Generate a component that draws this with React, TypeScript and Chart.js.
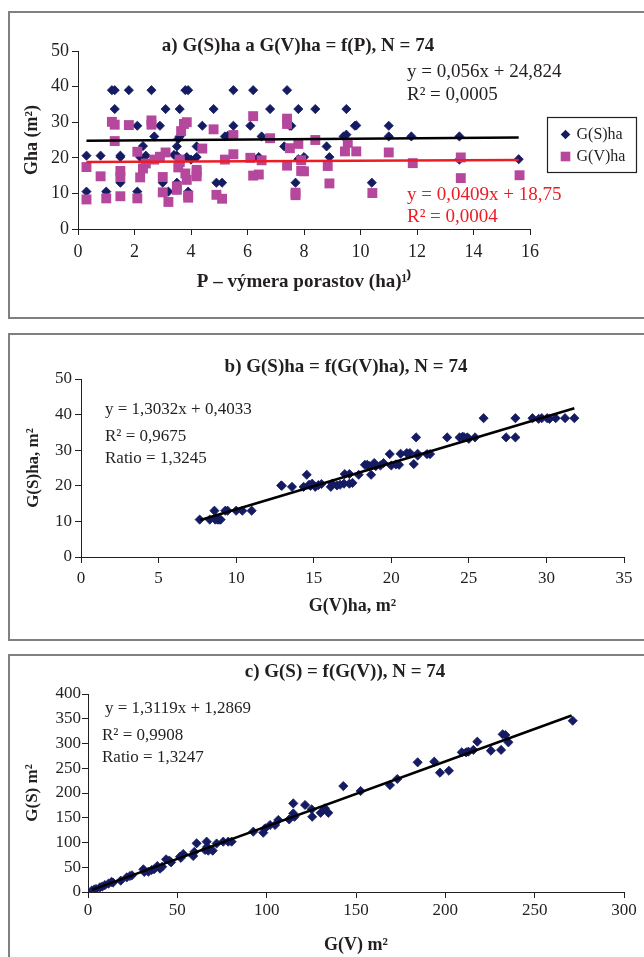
import React, { useEffect, useRef } from 'react';
import { Chart, registerables } from 'chart.js';
Chart.register(...registerables);

const FONT = '"Liberation Serif", "Times New Roman", Times, serif';
const INK = '#231f20';
const NAVY = '#141b62';
const MAGENTA = '#b5489c';
const RED = '#ed1c24';

// ---------------- Panel a: G(S)ha a G(V)ha = f(P) ----------------
const aTitle = 'a) G(S)ha a G(V)ha = f(P), N = 74';
const aXTitle = 'P – výmera porastov (ha)¹⁾';
const aYTitle = 'Gha (m²)';
const aSeries = ['G(S)ha', 'G(V)ha'];
const aXTicks = { min: 0, max: 16, step: 2 };
const aYTicks = { min: 0, max: 50, step: 10 };
const aGS: number[][] = [
  [1.2, 39], [1.3, 39], [1.8, 39], [2.6, 39], [3.8, 39], [3.9, 39], [5.5, 39], [6.2, 39], [7.4, 39],
  [1.3, 33.7], [3.1, 33.7], [3.6, 33.7], [4.8, 33.7], [6.8, 33.7], [7.8, 33.7], [8.4, 33.7], [9.5, 33.7],
  [2.1, 29], [2.9, 29], [4.4, 29], [5.5, 29], [6.1, 29], [7.5, 29], [9.8, 29], [9.85, 29.1], [11.0, 29],
  [2.7, 26], [3.6, 26], [5.2, 26], [6.5, 26], [9.4, 26], [11.0, 26], [11.8, 26], [13.5, 26],
  [2.3, 23.3], [3.5, 23.2], [4.2, 23.2], [7.3, 23.2], [8.8, 23.2],
  [0.3, 20.6], [0.8, 20.6], [1.5, 20.6], [1.5, 20.2], [2.2, 20.2], [2.4, 20.6], [3.5, 20.6], [3.85, 20.2],
  [4.2, 20.2], [6.2, 20.0], [6.4, 20.2], [7.8, 19.6], [8.0, 20.2], [8.9, 20.2], [13.5, 19.5], [15.6, 19.6],
  [1.5, 13], [3.0, 13], [3.5, 13], [4.9, 13], [5.1, 13], [7.7, 13], [10.4, 13],
  [0.3, 10.5], [1.0, 10.5], [2.1, 10.5], [3.2, 10.5], [3.9, 10.5],
  [3.55, 25.3], [2.9, 20.3], [5.3, 26.2], [7.55, 29], [9.5, 26.5], [3.4, 20.8], [4.0, 19.5],
];
const aGV: number[][] = [
  [1.2, 30.1], [1.3, 29.3], [1.8, 29.2], [2.6, 30.5], [2.6, 29.3], [3.85, 30.0], [3.75, 29.5], [7.4, 31.0],
  [7.4, 29.5], [6.2, 31.7], [4.8, 28.0], [3.65, 27.5], [5.5, 26.4], [6.8, 25.5], [1.3, 24.7], [7.8, 23.9],
  [8.4, 25.0], [9.55, 24.2], [4.4, 22.6], [7.5, 22.7], [2.1, 21.7], [3.1, 21.5], [9.45, 21.8], [9.85, 21.8],
  [11.0, 21.5], [5.5, 21.0], [2.9, 20.3], [6.1, 20.0], [13.55, 20.1], [2.7, 19.5], [5.2, 19.5], [6.5, 19.3],
  [7.9, 19.3], [2.4, 18.4], [3.6, 18.8], [3.55, 17.3], [0.3, 17.4], [8.84, 17.7], [7.4, 17.8], [4.2, 16.6],
  [2.3, 17.0], [11.85, 18.5], [1.5, 16.3], [3.8, 15.6], [7.9, 16.3], [8.0, 16.2], [0.8, 14.8], [1.5, 14.6],
  [3.0, 14.6], [3.85, 13.8], [4.2, 14.8], [6.2, 15.0], [6.4, 15.3], [2.2, 14.5], [13.55, 14.3], [15.63, 15.1],
  [8.9, 12.8], [3.5, 11.0], [3.0, 10.3], [10.42, 10.1], [1.5, 9.2], [4.9, 9.6], [7.7, 9.5], [7.7, 10.2],
  [0.3, 8.3], [1.0, 8.6], [2.1, 8.6], [5.1, 8.5], [3.9, 8.8], [3.2, 7.6], [3.9, 9.4], [3.5, 12.0],
  [4.2, 16.0], [3.6, 19.5],
];
const aTrendS: number[][] = [[0.3, 24.8], [15.6, 25.7]];
const aTrendV: number[][] = [[0.3, 18.8], [15.6, 19.4]];
const aEqS = ['y = 0,056x + 24,824', 'R² = 0,0005'];
const aEqV = ['y = 0,0409x + 18,75', 'R² = 0,0004'];

// ---------------- Panel b: G(S)ha = f(G(V)ha) ----------------
const bTitle = 'b) G(S)ha = f(G(V)ha), N = 74';
const bXTitle = 'G(V)ha, m²';
const bYTitle = 'G(S)ha, m²';
const bXTicks = { min: 0, max: 35, step: 5 };
const bYTicks = { min: 0, max: 50, step: 10 };
const bPoints: number[][] = [
  [7.65, 10.5], [8.3, 10.5], [8.6, 13], [8.65, 10.5], [8.8, 10.5], [8.9, 10.5], [9.3, 13], [9.45, 13],
  [10.0, 13], [10.4, 13], [11.0, 13], [12.9, 20.1], [13.6, 19.7], [14.35, 19.7], [14.55, 23.1], [14.7, 20.3],
  [14.9, 20.6], [15.1, 19.7], [15.3, 20.2], [16.1, 19.7], [16.2, 20.6], [16.5, 20.1], [16.95, 20.6], [17.0, 23.3],
  [17.3, 20.6], [17.3, 23.3], [17.9, 23.1], [18.3, 25.9], [18.45, 25.9], [18.7, 23.1], [18.9, 26.4], [19.3, 25.7],
  [19.5, 26.4], [19.9, 28.9], [20.0, 25.7], [20.5, 25.9], [20.6, 29.0], [21.0, 29.2], [21.2, 29.2], [21.45, 26.1],
  [21.6, 33.6], [21.7, 29.0], [22.3, 28.9], [22.5, 28.9], [23.6, 33.6], [24.4, 33.6], [24.7, 33.6], [24.9, 33.6],
  [25.4, 33.6], [25.95, 39.0], [27.4, 33.6], [28.0, 33.6], [28.0, 39.0], [29.1, 39.0], [29.7, 39.0], [30.05, 39.0],
  [30.6, 39.0], [31.2, 39.0], [31.8, 39.0],
  [8.7, 11.0], [9.0, 10.5], [15.5, 20.5], [16.7, 20.3], [19.0, 25.5], [20.3, 26.0], [21.7, 28.5], [14.8, 20.0],
  [17.5, 20.8], [18.6, 25.5], [24.6, 33.8], [25.0, 33.2], [29.5, 38.8], [30.2, 38.8], [12.95, 20.0],
];
const bTrend: number[][] = [[7.7, 10.4], [31.8, 41.8]];
const bEq = ['y = 1,3032x + 0,4033', 'R² = 0,9675', 'Ratio = 1,3245'];

// ---------------- Panel c: G(S) = f(G(V)) ----------------
const cTitle = 'c) G(S) = f(G(V)), N = 74';
const cXTitle = 'G(V) m²';
const cYTitle = 'G(S) m²';
const cXTicks = { min: 0, max: 300, step: 50 };
const cYTicks = { min: 0, max: 400, step: 50 };
const cPoints: number[][] = [
  [2.1, 3], [3.5, 5], [4.5, 6], [6.7, 9.5], [8.0, 11], [9.5, 14], [11.5, 17], [13.2, 20.5],
  [14.0, 19], [18.3, 22.9], [21.7, 29.6], [23.5, 32.3], [24.6, 33.8], [31.0, 45.8], [31.5, 40.5], [33.8, 41],
  [35.6, 44.4], [37.0, 46], [38.8, 52.5], [40.3, 47.1], [41.5, 51], [43.7, 66], [45.5, 63.3], [46.5, 60],
  [51.5, 71.3], [53.3, 76.8], [52.0, 69], [58.9, 72.7], [59.5, 81], [60.8, 98.3], [65.5, 84.8], [66.4, 101.7],
  [67.3, 83.5], [66.7, 91], [69.8, 83.5], [72.0, 98], [75.7, 101.7], [78.5, 101.7], [80.4, 101.7], [92.5, 121.8],
  [98.1, 119.8], [99.1, 128.6], [101.9, 135.4], [104.7, 135.4], [106.5, 145.5], [112.6, 146.6], [114.9, 179], [114.9, 158.8],
  [115.6, 152], [121.5, 175.8], [125.5, 152], [125.2, 167], [130.2, 160], [132.6, 169], [134.5, 160], [142.9, 214],
  [152.6, 204], [169.0, 216], [173.1, 228.3], [184.5, 262], [193.8, 263.3], [197.0, 241], [202.0, 245], [209.2, 282.2],
  [211.6, 282.2], [212.9, 283.5], [215.7, 287], [217.9, 303.7], [225.5, 285.5], [231.2, 287], [232.1, 318.6], [233.6, 317.2],
  [235.3, 302.4], [271.3, 346],
];
const cTrend: number[][] = [[2.3, 4.3], [270.7, 356.4]];
const cEq = ['y = 1,3119x + 1,2869', 'R² = 0,9908', 'Ratio = 1,3247'];

// ---------------- helpers ----------------
const toXY = (arr: number[][]) => arr.map(([x, y]) => ({ x, y }));

type TextItem = { text: string; x: number; y: number; size: number; bold?: boolean; color?: string; align?: CanvasTextAlign };

const overlayPlugin = {
  id: 'overlay',
  afterDraw(chart: any, _args: any, opts: any) {
    const ctx: CanvasRenderingContext2D = chart.ctx;
    ctx.save();
    (opts.texts || []).forEach((t: TextItem) => {
      ctx.font = `${t.bold ? 'bold ' : ''}${t.size}px ${FONT}`;
      ctx.fillStyle = t.color || INK;
      ctx.textAlign = t.align || 'left';
      ctx.textBaseline = 'middle';
      ctx.fillText(t.text, t.x, t.y);
    });
    const lg = opts.legend;
    if (lg) {
      ctx.strokeStyle = INK;
      ctx.lineWidth = 1.2;
      ctx.strokeRect(lg.x, lg.y, lg.w, lg.h);
      lg.items.forEach((it: any, i: number) => {
        const cy = lg.y + lg.rowStart + i * lg.rowGap;
        const cx = lg.x + lg.markX;
        ctx.fillStyle = it.color;
        ctx.beginPath();
        if (it.style === 'diamond') {
          const r = 4.8;
          ctx.moveTo(cx - r, cy); ctx.lineTo(cx, cy - r); ctx.lineTo(cx + r, cy); ctx.lineTo(cx, cy + r);
          ctx.closePath();
          ctx.fill();
        } else {
          ctx.fillRect(cx - 4.8, cy - 4.8, 9.6, 9.6);
        }
        ctx.fillStyle = INK;
        ctx.font = `16px ${FONT}`;
        ctx.textAlign = 'left';
        ctx.textBaseline = 'middle';
        ctx.fillText(it.label, lg.x + lg.textX, cy);
      });
    }
    ctx.restore();
  },
};

function axis(o: {
  t: { min: number; max: number; step: number };
  tickSize: number; tickPad: number; title: string; titleSize: number;
  titlePad: { top: number; bottom: number }; fit: number; isX: boolean;
}) {
  return {
    type: 'linear',
    min: o.t.min,
    max: o.t.max,
    ticks: {
      stepSize: o.t.step,
      autoSkip: false,
      maxRotation: 0,
      padding: o.tickPad,
      color: INK,
      font: { family: FONT, size: o.tickSize },
    },
    grid: { display: true, drawOnChartArea: false, drawTicks: true, tickLength: 6, color: INK, lineWidth: 1 },
    border: { display: true, color: INK, width: 1 },
    title: {
      display: true,
      text: o.title,
      color: INK,
      font: { family: FONT, size: o.titleSize, weight: 'bold' },
      padding: o.titlePad,
    },
    afterFit: (s: any) => {
      if (o.isX) s.height = o.fit; else s.width = o.fit;
    },
  };
}

function markerSet(label: string, pts: number[][], style: 'rectRot' | 'rect', color: string, r: number) {
  return {
    label,
    data: toXY(pts),
    pointStyle: style,
    pointRadius: r,
    pointHoverRadius: r,
    backgroundColor: color,
    borderColor: color,
    borderWidth: style === 'rectRot' ? 0.8 : 0,
    showLine: false,
  };
}

function trendSet(pts: number[][], color: string) {
  return {
    label: 'trend',
    data: toXY(pts),
    showLine: true,
    borderColor: color,
    borderWidth: 2.6,
    pointRadius: 0,
    pointHoverRadius: 0,
    fill: false,
  };
}

function baseOptions(padding: any, scales: any, overlay: any) {
  return {
    animation: false,
    responsive: false,
    events: [],
    layout: { padding },
    plugins: {
      legend: { display: false },
      tooltip: { enabled: false },
      title: { display: false },
      overlay,
    },
    scales,
  };
}

function buildA() {
  return {
    type: 'scatter',
    data: {
      datasets: [
        trendSet(aTrendS, '#000000'),
        trendSet(aTrendV, RED),
        markerSet(aSeries[1], aGV, 'rect', MAGENTA, 7),
        markerSet(aSeries[0], aGS, 'rectRot', NAVY, 4.6),
      ],
    },
    options: baseOptions(
      { left: 20, right: 114, top: 51, bottom: 25 },
      {
        x: axis({ t: aXTicks, tickSize: 18, tickPad: 6, title: aXTitle, titleSize: 19, titlePad: { top: 2, bottom: 2 }, fit: 66, isX: true }),
        y: axis({ t: aYTicks, tickSize: 18, tickPad: 3, title: aYTitle, titleSize: 18, titlePad: { top: 2, bottom: 2 }, fit: 58, isX: false }),
      },
      {
        texts: [
          { text: aTitle, x: 298, y: 46, size: 19, bold: true, align: 'center' },
          { text: aEqS[0], x: 407, y: 72, size: 19 },
          { text: aEqS[1], x: 407, y: 95, size: 19 },
          { text: aEqV[0], x: 407, y: 195, size: 19, color: RED },
          { text: aEqV[1], x: 407, y: 217, size: 19, color: RED },
        ],
        legend: {
          x: 547.5, y: 117.5, w: 89, h: 55, markX: 18, textX: 29, rowStart: 17, rowGap: 22,
          items: [
            { label: aSeries[0], color: NAVY, style: 'diamond' },
            { label: aSeries[1], color: MAGENTA, style: 'square' },
          ],
        },
      },
    ),
    plugins: [overlayPlugin],
  };
}

function buildB() {
  return {
    type: 'scatter',
    data: {
      datasets: [
        trendSet(bTrend, '#000000'),
        markerSet('G(S)ha', bPoints, 'rectRot', NAVY, 4.6),
      ],
    },
    options: baseOptions(
      { left: 20, right: 20, top: 54, bottom: 26 },
      {
        x: axis({ t: bXTicks, tickSize: 17, tickPad: 5, title: bXTitle, titleSize: 18, titlePad: { top: 2, bottom: 2 }, fit: 62, isX: true }),
        y: axis({ t: bYTicks, tickSize: 17, tickPad: 3, title: bYTitle, titleSize: 17, titlePad: { top: 3, bottom: 2 }, fit: 61, isX: false }),
      },
      {
        texts: [
          { text: bTitle, x: 346, y: 42, size: 19, bold: true, align: 'center' },
          { text: bEq[0], x: 105, y: 85, size: 17 },
          { text: bEq[1], x: 105, y: 112, size: 17 },
          { text: bEq[2], x: 105, y: 134, size: 17 },
        ],
      },
    ),
    plugins: [overlayPlugin],
  };
}

function buildC() {
  return {
    type: 'scatter',
    data: {
      datasets: [
        trendSet(cTrend, '#000000'),
        markerSet('G(S)', cPoints, 'rectRot', NAVY, 4.6),
      ],
    },
    options: baseOptions(
      { left: 20, right: 20, top: 46, bottom: 0 },
      {
        x: axis({ t: cXTicks, tickSize: 17, tickPad: 2, title: cXTitle, titleSize: 18, titlePad: { top: 1, bottom: 1 }, fit: 65, isX: true }),
        y: axis({ t: cYTicks, tickSize: 17, tickPad: 1, title: cYTitle, titleSize: 17, titlePad: { top: 2, bottom: 2 }, fit: 68, isX: false }),
      },
      {
        texts: [
          { text: cTitle, x: 345, y: 24, size: 19, bold: true, align: 'center' },
          { text: cEq[0], x: 105, y: 61, size: 17 },
          { text: cEq[1], x: 102, y: 88, size: 17 },
          { text: cEq[2], x: 102, y: 110, size: 17 },
        ],
      },
    ),
    plugins: [overlayPlugin],
  };
}

function ChartCanvas({ top, height, build }: { top: number; height: number; build: () => any }) {
  const ref = useRef<HTMLCanvasElement>(null);
  useEffect(() => {
    const chart = new Chart(ref.current as HTMLCanvasElement, build());
    return () => chart.destroy();
  }, []);
  return (
    <canvas
      ref={ref}
      width={644}
      height={height}
      style={{ position: 'absolute', left: 0, top, width: 644, height }}
    />
  );
}

const frame = (top: number, height: number): React.CSSProperties => ({
  position: 'absolute',
  left: 8,
  top,
  width: 700,
  height,
  border: '2px solid #808080',
  boxSizing: 'border-box',
});

export default function App() {
  return (
    <div
      style={{
        position: 'absolute',
        left: 0,
        top: 0,
        width: 644,
        height: 957,
        overflow: 'hidden',
        background: '#ffffff',
      }}
    >
      <div style={frame(11, 308)} />
      <div style={frame(333, 308)} />
      <div style={frame(654, 400)} />
      <ChartCanvas top={0} height={320} build={buildA} />
      <ChartCanvas top={325} height={320} build={buildB} />
      <ChartCanvas top={648} height={309} build={buildC} />
    </div>
  );
}
